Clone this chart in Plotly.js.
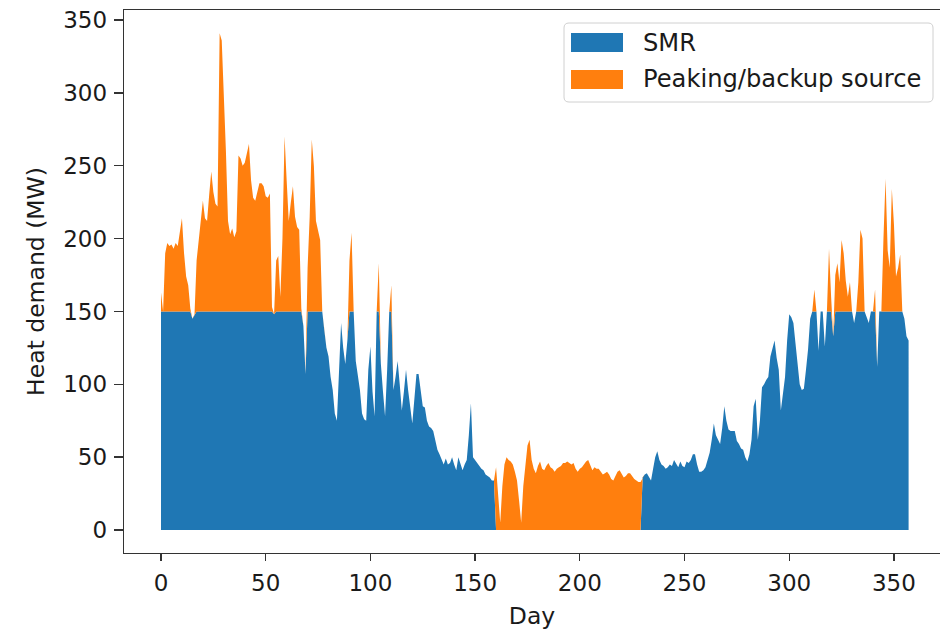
<!DOCTYPE html>
<html>
<head>
<meta charset="utf-8">
<script src="https://cdn.plot.ly/plotly-3.0.1.min.js"></script>
<style>html,body{margin:0;padding:0;background:#fff;}#chart{width:940px;height:632px;}</style>
</head>
<body>
<div id="chart"></div>
<script>
// Daily heat demand (MW), day 0 .. 357
const demand = [
163,150,190,197,195,196,193,197,195,205,214,190,174,168,152,145,148,185,200,210,
226,214,212,230,246,232,224,222,341,336,300,260,212,203,207,201,205,257,255,250,
252,258,265,240,228,226,232,238,238,236,229,228,231,153,148,185,188,160,200,270,
240,212,225,236,215,208,206,152,140,107,180,215,268,250,212,205,199,150,137,125,
119,105,96,80,75,110,142,125,114,130,185,204,150,116,105,96,80,76,75,110,
126,95,78,150,183,114,95,78,110,150,168,96,105,116,100,82,95,110,96,85,
73,90,107,107,95,85,84,75,71,70,68,62,55,52,48,45,49,45,46,50,
45,41,50,45,41,45,48,65,87,50,48,46,44,42,41,38,37,36,34,34,
43,20,5,30,45,50,48,47,45,40,34,20,5,30,45,58,62,48,42,39,
44,47,42,41,44,46,43,42,40,42,43,44,46,46,47,46,45,46,42,40,
42,43,45,47,48,44,41,43,42,42,40,38,39,40,38,35,34,37,40,41,
38,36,37,39,39,37,35,34,33,33,36,38,39,36,34,42,50,54,48,45,
44,42,43,45,44,48,45,43,47,44,43,47,46,48,52,52,45,40,40,41,
43,48,53,62,73,65,62,59,70,85,75,69,68,68,68,61,59,56,55,50,
47,52,62,85,90,62,75,98,100,103,105,119,125,130,118,110,82,95,105,130,
148,146,142,128,115,100,96,97,110,124,145,150,165,150,123,150,150,126,150,193,
160,133,175,183,170,199,190,171,160,170,150,142,150,170,206,200,150,146,142,150,
150,165,112,150,150,200,241,192,180,234,210,174,180,189,150,145,133,130
];
const smrCapacity = 150;          // MW
const outageStart = 160, outageEnd = 229;  // SMR offline (days)
const days = demand.map((_, i) => i);
const smr = demand.map((d, i) => (i >= outageStart && i <= outageEnd) ? 0 : Math.min(d, smrCapacity));
const peaking = demand.map((d, i) => d - smr[i]);
const seriesNames = ["SMR", "Peaking/backup source"];
const seriesColors = ["#1f77b4", "#ff7f0e"];
const xTicks = [0, 50, 100, 150, 200, 250, 300, 350];
const yTicks = [0, 50, 100, 150, 200, 250, 300, 350];

const FONT = "DejaVu Sans, Verdana, sans-serif";
const TXT = "#1a1a1a";
const W = 940, H = 632, M = {l: 124, r: 0, t: 10, b: 79};
const pw = W - M.l - M.r, ph = H - M.t - M.b;
const px = v => (v - M.l) / pw;          // pixel x -> paper x
const py = v => (H - M.b - v) / ph;      // pixel y -> paper y

const traces = seriesNames.map((n, k) => ({
  x: days, y: k === 0 ? smr : peaking, name: n, type: "scatter", mode: "lines", stackgroup: "one",
  line: {width: 0, color: seriesColors[k]}, fillcolor: seriesColors[k], hoverinfo: "x+y", showlegend: false
}));

// legend drawn as a matplotlib-style box
const box = {x0: 564, x1: 933, y0: 23, y1: 102, r: 5};
const rb = `M${px(box.x0 + box.r)},${py(box.y0)} L${px(box.x1 - box.r)},${py(box.y0)} Q${px(box.x1)},${py(box.y0)} ${px(box.x1)},${py(box.y0 + box.r)} ` +
           `L${px(box.x1)},${py(box.y1 - box.r)} Q${px(box.x1)},${py(box.y1)} ${px(box.x1 - box.r)},${py(box.y1)} ` +
           `L${px(box.x0 + box.r)},${py(box.y1)} Q${px(box.x0)},${py(box.y1)} ${px(box.x0)},${py(box.y1 - box.r)} ` +
           `L${px(box.x0)},${py(box.y0 + box.r)} Q${px(box.x0)},${py(box.y0)} ${px(box.x0 + box.r)},${py(box.y0)} Z`;
const shapes = [{type: "path", xref: "paper", yref: "paper", path: rb, fillcolor: "rgba(255,255,255,0.8)",
                 line: {color: "#d0d0d0", width: 1}, layer: "above"}];
const annotations = [];
const rowY = [42.5, 79.5];
seriesNames.forEach((n, k) => {
  shapes.push({type: "rect", xref: "paper", yref: "paper", x0: px(571), x1: px(623), y0: py(rowY[k] - 9.5), y1: py(rowY[k] + 9.5),
               fillcolor: seriesColors[k], line: {width: 0}, layer: "above"});
  annotations.push({xref: "paper", yref: "paper", x: px(641), y: py(rowY[k]), xanchor: "left", yanchor: "middle",
                    text: n, showarrow: false, font: {family: FONT, size: 24.2, color: TXT}});
});

const layout = {
  width: W, height: H,
  margin: {l: M.l, r: M.r, t: M.t, b: M.b, pad: 0},
  paper_bgcolor: "#ffffff", plot_bgcolor: "#ffffff",
  font: {family: FONT, size: 23, color: TXT},
  showlegend: false,
  shapes: shapes, annotations: annotations,
  xaxis: {range: [-17.67, 372.0], tickmode: "array", tickvals: xTicks, ticktext: xTicks.map(String),
          showgrid: false, zeroline: false, showline: true, mirror: true, linecolor: "#333333", linewidth: 1.3,
          ticks: "outside", ticklen: 7, tickwidth: 1.3, tickcolor: "#333333", ticklabelstandoff: 2,
          tickfont: {family: FONT, size: 23, color: TXT},
          title: {text: "Day", font: {family: FONT, size: 23.5, color: TXT}, standoff: 12}},
  yaxis: {range: [-15.8, 356.9], tickmode: "array", tickvals: yTicks, ticktext: yTicks.map(String),
          showgrid: false, zeroline: false, showline: true, mirror: false, linecolor: "#333333", linewidth: 1.3,
          ticks: "outside", ticklen: 9, tickwidth: 1.3, tickcolor: "#333333", ticklabelstandoff: 2,
          tickfont: {family: FONT, size: 23, color: TXT},
          title: {text: "Heat demand (MW)", font: {family: FONT, size: 23.5, color: TXT}, standoff: 12}}
};
Plotly.newPlot("chart", traces, layout, {displayModeBar: false, staticPlot: true});
</script>
</body>
</html>
